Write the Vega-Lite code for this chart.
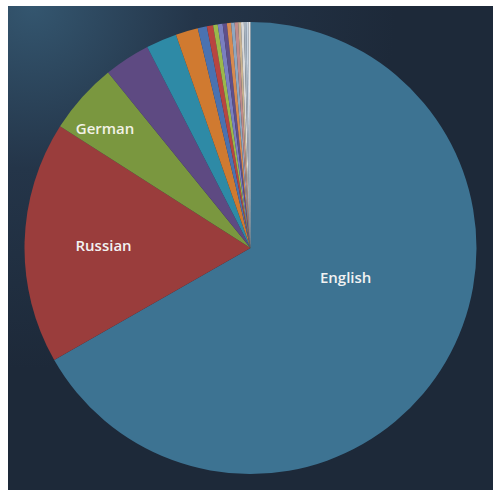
{
  "$schema": "https://vega.github.io/schema/vega-lite/v6.json",
  "width": 493,
  "height": 490,
  "autosize": {"type": "fit", "contains": "padding"},
  "padding": {"left": 8, "top": 6, "right": 0, "bottom": 0},
  "background": "#ffffff",
  "view": {
    "stroke": null,
    "fill": {
      "gradient": "radial",
      "x1": 0.05, "y1": 0.0, "r1": 0,
      "x2": 0.05, "y2": 0.0, "r2": 0.75,
      "stops": [
        {"offset": 0, "color": "#34566f"},
        {"offset": 0.45, "color": "#243549"},
        {"offset": 1, "color": "#1d2939"}
      ]
    }
  },
  "data": {
    "values": [
      {"idx": 1, "lang": "English", "share": 66.75},
      {"idx": 2, "lang": "Russian", "share": 17.3},
      {"idx": 3, "lang": "German", "share": 5.1},
      {"idx": 4, "lang": "French", "share": 3.3},
      {"idx": 5, "lang": "Spanish", "share": 2.2},
      {"idx": 6, "lang": "Japanese", "share": 1.6},
      {"idx": 7, "lang": "Chinese", "share": 0.65},
      {"idx": 8, "lang": "Polish", "share": 0.45},
      {"idx": 9, "lang": "Italian", "share": 0.33},
      {"idx": 10, "lang": "Portuguese", "share": 0.35},
      {"idx": 11, "lang": "Ukrainian", "share": 0.3},
      {"idx": 12, "lang": "Dutch", "share": 0.3},
      {"idx": 13, "lang": "Turkish", "share": 0.25},
      {"idx": 14, "lang": "Czech", "share": 0.25},
      {"idx": 15, "lang": "Swedish", "share": 0.2},
      {"idx": 16, "lang": "Korean", "share": 0.2},
      {"idx": 17, "lang": "Hungarian", "share": 0.17},
      {"idx": 18, "lang": "Finnish", "share": 0.15},
      {"idx": 19, "lang": "Other", "share": 0.15}
    ]
  },
  "encoding": {
    "theta": {"field": "share", "type": "quantitative", "stack": true},
    "order": {"field": "idx", "type": "quantitative"}
  },
  "layer": [
    {
      "mark": {"type": "arc", "outerRadius": 226, "stroke": null},
      "encoding": {
        "color": {
          "field": "lang",
          "type": "nominal",
          "sort": null,
          "legend": null,
          "scale": {
            "domain": ["English", "Russian", "German", "French", "Spanish", "Japanese", "Chinese", "Polish", "Italian", "Portuguese", "Ukrainian", "Dutch", "Turkish", "Czech", "Swedish", "Korean", "Hungarian", "Finnish", "Other"],
            "range": ["#3d7392", "#9a3d3c", "#7a973f", "#5e4a82", "#2e8aa6", "#d07a30", "#4a72b0", "#b94540", "#9cb84a", "#7a7fc0", "#5f4f8a", "#d88a50", "#8fa7c0", "#c08a8a", "#c9b28f", "#d9d9d9", "#a8b3bf", "#c6d2df", "#e6e6e6"]
          }
        }
      }
    },
    {
      "mark": {"type": "text", "radius": 110, "dy": -25, "font": "Open Sans", "fontSize": 15, "fontWeight": 600, "fill": "#f2f2f2"},
      "encoding": {
        "text": {"condition": {"test": "datum.lang === 'English'", "field": "lang"}, "value": ""}
      }
    },
    {
      "mark": {"type": "text", "radius": 147, "dy": 2, "font": "Open Sans", "fontSize": 15, "fontWeight": 600, "fill": "#f2f2f2"},
      "encoding": {
        "text": {"condition": {"test": "datum.lang === 'Russian'", "field": "lang"}, "value": ""}
      }
    },
    {
      "mark": {"type": "text", "radius": 191, "dx": -3, "dy": 8, "font": "Open Sans", "fontSize": 15, "fontWeight": 600, "fill": "#f2f2e6"},
      "encoding": {
        "text": {"condition": {"test": "datum.lang === 'German'", "field": "lang"}, "value": ""}
      }
    }
  ]
}
